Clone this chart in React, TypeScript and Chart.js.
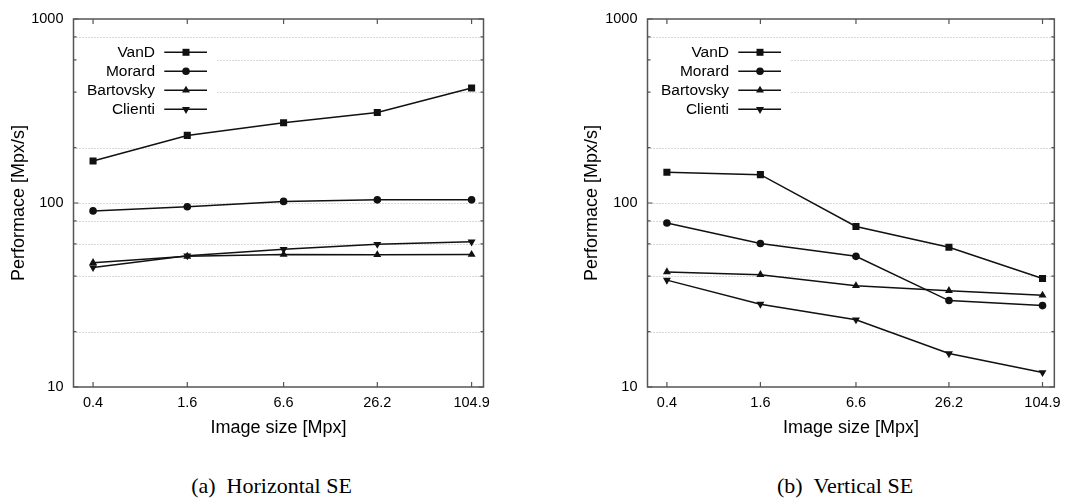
import React, { useEffect, useRef } from "react";
import { Chart, registerables } from "chart.js";

Chart.register(...registerables);

// ---------- data ----------
const imageSizes = [0.4, 1.6, 6.6, 26.2, 104.9];
const xTickLabels = ["0.4", "1.6", "6.6", "26.2", "104.9"];
const yTickValues = [10, 20, 40, 60, 80, 100, 200, 400, 600, 800, 1000];
const yMajorTicks = [10, 100, 1000];
const seriesNames = ["VanD", "Morard", "Bartovsky", "Clienti"];

// (a) Horizontal SE
const horizontalVanD = [169, 233, 273, 310, 422];
const horizontalMorard = [90.6, 95.5, 102, 104, 104];
const horizontalBartovsky = [47.4, 51.3, 52.5, 52.3, 52.5];
const horizontalClienti = [44.6, 51.7, 56.0, 59.7, 61.5];

// (b) Vertical SE
const verticalVanD = [147, 142.6, 74.6, 57.5, 38.9];
const verticalMorard = [77.8, 60.2, 51.3, 29.5, 27.7];
const verticalBartovsky = [42.2, 40.8, 35.5, 33.4, 31.5];
const verticalClienti = [38.1, 28.2, 23.2, 15.2, 12.0];

const xAxisTitle = "Image size [Mpx]";
const yAxisTitle = "Performace [Mpx/s]";

// ---------- styling ----------
const FONT = "'Liberation Sans', Arial, Helvetica, sans-serif";
const LINE_COLOR = "#111111";
const markerKinds = ["rect", "circle", "triangle", "triangleDown"];

function drawMarker(ctx: CanvasRenderingContext2D, kind: string, x: number, y: number) {
  ctx.beginPath();
  if (kind === "rect") {
    const s = 7;
    ctx.rect(x - s / 2, y - s / 2, s, s);
  } else if (kind === "circle") {
    ctx.arc(x, y, 3.8, 0, Math.PI * 2);
  } else if (kind === "triangle") {
    const r = 4.6;
    ctx.moveTo(x, y - r);
    ctx.lineTo(x + 0.866 * r, y + 0.5 * r);
    ctx.lineTo(x - 0.866 * r, y + 0.5 * r);
  } else {
    const r = 4.6;
    ctx.moveTo(x, y + r);
    ctx.lineTo(x + 0.866 * r, y - 0.5 * r);
    ctx.lineTo(x - 0.866 * r, y - 0.5 * r);
  }
  ctx.closePath();
  ctx.fill();
}

const decorPlugin = {
  id: "gnuplotDecor",
  beforeDatasetsDraw(chart: any) {
    const { ctx, chartArea: a, scales } = chart;
    const ys = scales.y;
    const xs = scales.x;
    ctx.save();
    // dotted grid lines
    ctx.strokeStyle = "#b0b0b0";
    ctx.lineWidth = 1;
    ctx.setLineDash([1, 2]);
    for (const v of yTickValues) {
      if (v === 10 || v === 1000) continue;
      const py = Math.round(ys.getPixelForValue(v)) + 0.5;
      ctx.beginPath();
      ctx.moveTo(a.left, py);
      ctx.lineTo(a.right, py);
      ctx.stroke();
    }
    ctx.setLineDash([]);
    // legend background (hides grid behind the key)
    ctx.fillStyle = "#ffffff";
    ctx.fillRect(a.left + 1, a.top + 20, 142, 82);
    // frame
    ctx.strokeStyle = "#555555";
    ctx.lineWidth = 1.5;
    ctx.strokeRect(a.left, a.top, a.right - a.left, a.bottom - a.top);
    // inward ticks
    ctx.lineWidth = 1.2;
    for (const v of yTickValues) {
      const py = ys.getPixelForValue(v);
      const len = yMajorTicks.includes(v) ? 5 : 3;
      ctx.beginPath();
      ctx.moveTo(a.left, py);
      ctx.lineTo(a.left + len, py);
      ctx.moveTo(a.right, py);
      ctx.lineTo(a.right - len, py);
      ctx.stroke();
    }
    for (const v of imageSizes) {
      const px = xs.getPixelForValue(v);
      ctx.beginPath();
      ctx.moveTo(px, a.bottom);
      ctx.lineTo(px, a.bottom - 5);
      ctx.moveTo(px, a.top);
      ctx.lineTo(px, a.top + 5);
      ctx.stroke();
    }
    ctx.restore();
  },
  afterDatasetsDraw(chart: any) {
    const { ctx, chartArea: a } = chart;
    ctx.save();
    ctx.font = `15.5px ${FONT}`;
    ctx.textAlign = "right";
    ctx.textBaseline = "middle";
    seriesNames.forEach((name, i) => {
      const y = a.top + 33.3 + i * 19;
      ctx.fillStyle = "#000000";
      ctx.fillText(name, a.left + 81.5, y + 0.5);
      ctx.strokeStyle = LINE_COLOR;
      ctx.lineWidth = 1.5;
      ctx.beginPath();
      ctx.moveTo(a.left + 90.8, y);
      ctx.lineTo(a.left + 133.5, y);
      ctx.stroke();
      ctx.fillStyle = LINE_COLOR;
      drawMarker(ctx, markerKinds[i], a.left + 112.5, y);
    });
    ctx.restore();
  },
};

type PanelProps = {
  left: number;
  series: number[][];
  yAxisWidth: number;
  rightPad: number;
  titlePad: number;
};

function Panel({ left, series, yAxisWidth, rightPad, titlePad }: PanelProps) {
  const ref = useRef<HTMLCanvasElement | null>(null);
  useEffect(() => {
    if (!ref.current) return;
    const pointStyles = ["rect", "circle", "triangle", "triangle"];
    const radii = [5, 3.8, 4.6, 4.6];
    const rotations = [0, 0, 0, 180];
    const chart = new Chart(ref.current, {
      type: "line",
      data: {
        datasets: series.map((vals, i) => ({
          label: seriesNames[i],
          data: imageSizes.map((x, j) => ({ x, y: vals[j] })),
          borderColor: LINE_COLOR,
          backgroundColor: LINE_COLOR,
          borderWidth: 1.5,
          pointStyle: pointStyles[i] as any,
          pointRadius: radii[i],
          pointRotation: rotations[i],
          pointBorderWidth: 0,
          pointBackgroundColor: LINE_COLOR,
          tension: 0,
          fill: false,
        })),
      },
      options: {
        animation: false,
        responsive: false,
        layout: { padding: { left: 0, right: rightPad, top: 19, bottom: 0 } },
        plugins: { legend: { display: false }, tooltip: { enabled: false } },
        scales: {
          x: {
            type: "logarithmic",
            min: 0.34,
            max: 125,
            afterBuildTicks: (s: any) => {
              s.ticks = imageSizes.map((v) => ({ value: v }));
            },
            afterFit: (s: any) => {
              s.height = 58;
            },
            grid: { display: false, drawTicks: false },
            border: { display: false },
            ticks: {
              autoSkip: false,
              maxRotation: 0,
              padding: 7,
              color: "#000",
              font: { family: FONT, size: 14.5 },
              callback: (_v: any, i: number) => xTickLabels[i],
            },
            title: {
              display: true,
              text: xAxisTitle,
              color: "#000",
              font: { family: FONT, size: 18 },
              padding: { top: 0, bottom: 6 },
            },
          },
          y: {
            type: "logarithmic",
            min: 10,
            max: 1000,
            afterBuildTicks: (s: any) => {
              s.ticks = yTickValues.map((v) => ({ value: v }));
            },
            afterFit: (s: any) => {
              s.width = yAxisWidth;
            },
            grid: { display: false, drawTicks: false },
            border: { display: false },
            ticks: {
              autoSkip: false,
              padding: 10,
              color: "#000",
              font: { family: FONT, size: 14.5 },
              callback: (v: any) => (yMajorTicks.includes(Number(v)) ? String(v) : ""),
            },
            title: {
              display: true,
              text: yAxisTitle,
              color: "#000",
              font: { family: FONT, size: 18 },
              padding: { top: titlePad, bottom: 0 },
            },
          },
        },
      },
      plugins: [decorPlugin],
    } as any);
    return () => chart.destroy();
  }, []);
  return (
    <canvas
      ref={ref}
      width={534}
      height={445}
      style={{ position: "absolute", left, top: 0, width: 534, height: 445, display: "block" }}
    />
  );
}

const captionStyle: React.CSSProperties = {
  position: "absolute",
  top: 473,
  transform: "translateX(-50%)",
  fontFamily: "'Liberation Serif', 'Times New Roman', serif",
  fontSize: 22,
  lineHeight: "26px",
  whiteSpace: "pre",
  color: "#000",
};

export default function App() {
  return (
    <div
      style={{
        position: "absolute",
        left: 0,
        top: 0,
        width: 1068,
        height: 498,
        background: "#fff",
        overflow: "hidden",
      }}
    >
      <Panel
        left={0}
        series={[horizontalVanD, horizontalMorard, horizontalBartovsky, horizontalClienti]}
        yAxisWidth={73.5}
        rightPad={50.5}
        titlePad={8}
      />
      <Panel
        left={534}
        series={[verticalVanD, verticalMorard, verticalBartovsky, verticalClienti]}
        yAxisWidth={113.5}
        rightPad={12}
        titlePad={47.7}
      />
      <div style={{ ...captionStyle, left: 271.5 }}>{"(a)\u2002Horizontal SE"}</div>
      <div style={{ ...captionStyle, left: 845 }}>{"(b)\u2002Vertical SE"}</div>
    </div>
  );
}
